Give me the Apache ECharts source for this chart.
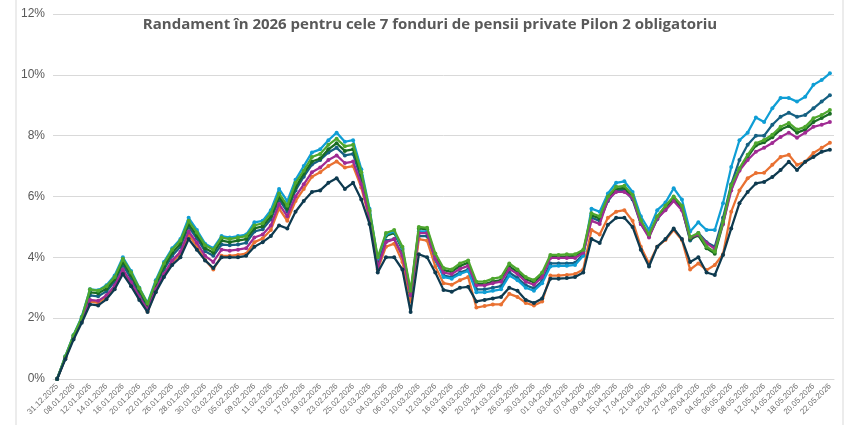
<!DOCTYPE html>
<html>
<head>
    <meta http-equiv="Content-Type" content="text/html; charset=utf-8" />
    <script type="text/javascript" src="https://cdn.jsdelivr.net/npm/echarts@6/dist/echarts.min.js"></script>
</head>
<body style="margin:0;">
    <div id="chartDom" style="width: 860px; height: 425px;"></div>

    <script type="text/javascript">
        // trading days (labels shown every other day)
        var dates = [
            '31.12.2025', '05.01.2026', '08.01.2026', '09.01.2026', '12.01.2026', '13.01.2026', '14.01.2026', '15.01.2026',
            '16.01.2026', '19.01.2026', '20.01.2026', '21.01.2026', '22.01.2026', '23.01.2026', '26.01.2026', '27.01.2026',
            '28.01.2026', '29.01.2026', '30.01.2026', '02.02.2026', '03.02.2026', '04.02.2026', '05.02.2026', '06.02.2026',
            '09.02.2026', '10.02.2026', '11.02.2026', '12.02.2026', '13.02.2026', '16.02.2026', '17.02.2026', '18.02.2026',
            '19.02.2026', '20.02.2026', '23.02.2026', '24.02.2026', '25.02.2026', '27.02.2026', '02.03.2026', '03.03.2026',
            '04.03.2026', '05.03.2026', '06.03.2026', '09.03.2026', '10.03.2026', '11.03.2026', '12.03.2026', '13.03.2026',
            '16.03.2026', '17.03.2026', '18.03.2026', '19.03.2026', '20.03.2026', '23.03.2026', '24.03.2026', '25.03.2026',
            '26.03.2026', '27.03.2026', '30.03.2026', '31.03.2026', '01.04.2026', '02.04.2026', '03.04.2026', '06.04.2026',
            '07.04.2026', '08.04.2026', '09.04.2026', '14.04.2026', '15.04.2026', '16.04.2026', '17.04.2026', '20.04.2026',
            '21.04.2026', '22.04.2026', '23.04.2026', '24.04.2026', '27.04.2026', '28.04.2026', '29.04.2026', '30.04.2026',
            '04.05.2026', '05.05.2026', '06.05.2026', '07.05.2026', '08.05.2026', '11.05.2026', '12.05.2026', '13.05.2026',
            '14.05.2026', '15.05.2026', '18.05.2026', '19.05.2026', '20.05.2026', '21.05.2026', '22.05.2026'
        ];

        var fundA = [0, 0.70, 1.38, 1.95, 2.75, 2.72, 2.88, 3.20, 3.75, 3.30, 2.80, 2.35, 3.05, 3.60, 4.05, 4.35,
            5.00, 4.62, 4.20, 4.05, 4.42, 4.40, 4.42, 4.48, 4.85, 4.92, 5.25, 5.90, 5.50, 6.20, 6.65, 7.05,
            7.20, 7.45, 7.60, 7.35, 7.40, 6.55, 5.40, 3.80, 4.55, 4.60, 4.05, 2.70, 4.70, 4.70, 3.90, 3.40,
            3.35, 3.50, 3.60, 2.95, 2.95, 3.00, 3.05, 3.50, 3.32, 3.08, 2.98, 3.22, 3.80, 3.80, 3.80, 3.82,
            4.10, 5.30, 5.20, 5.85, 6.20, 6.22, 5.90, 5.10, 4.70, 5.25, 5.60, 5.90, 5.60, 4.55, 4.80, 4.50,
            4.35, 5.30, 6.40, 7.20, 7.70, 8.00, 8.00, 8.36, 8.62, 8.75, 8.62, 8.68, 8.90, 9.12, 9.33];
        var fundB = [0, 0.68, 1.35, 1.90, 2.55, 2.50, 2.70, 3.02, 3.55, 3.12, 2.65, 2.22, 2.90, 3.42, 3.85, 4.10,
            4.75, 4.35, 3.92, 3.60, 4.05, 4.05, 4.08, 4.12, 4.50, 4.62, 4.90, 5.60, 5.20, 5.85, 6.25, 6.65,
            6.80, 7.00, 7.15, 6.95, 7.00, 6.30, 5.25, 3.60, 4.35, 4.45, 3.85, 2.55, 4.60, 4.55, 3.70, 3.15,
            3.10, 3.25, 3.35, 2.35, 2.40, 2.45, 2.45, 2.80, 2.70, 2.50, 2.42, 2.55, 3.40, 3.40, 3.42, 3.45,
            3.60, 4.90, 4.75, 5.30, 5.50, 5.55, 5.20, 4.35, 3.80, 4.35, 4.57, 4.90, 4.57, 3.60, 3.80, 3.58,
            3.75, 4.10, 5.50, 6.20, 6.60, 6.77, 6.78, 7.04, 7.30, 7.37, 7.04, 7.14, 7.43, 7.60, 7.77];
        var fundC = [0, 0.72, 1.42, 2.00, 2.85, 2.82, 2.97, 3.28, 3.85, 3.42, 2.90, 2.42, 3.12, 3.70, 4.15, 4.45,
            5.10, 4.72, 4.30, 4.15, 4.55, 4.50, 4.55, 4.60, 4.95, 5.02, 5.35, 6.00, 5.60, 6.30, 6.75, 7.15,
            7.25, 7.55, 7.75, 7.50, 7.55, 6.70, 5.50, 3.90, 4.70, 4.80, 4.25, 2.85, 4.95, 4.92, 4.05, 3.58,
            3.52, 3.72, 3.82, 3.12, 3.12, 3.20, 3.25, 3.70, 3.52, 3.28, 3.18, 3.42, 4.02, 4.02, 4.02, 4.05,
            4.20, 5.38, 5.28, 5.95, 6.25, 6.28, 5.98, 5.15, 4.70, 5.30, 5.62, 5.95, 5.62, 4.60, 4.72, 4.30,
            4.12, 5.10, 6.30, 6.88, 7.30, 7.68, 7.78, 7.95, 8.20, 8.32, 8.10, 8.20, 8.45, 8.58, 8.72];
        var fundD = [0, 0.75, 1.45, 2.05, 2.95, 2.92, 3.08, 3.40, 4.00, 3.55, 3.00, 2.50, 3.25, 3.85, 4.30, 4.60,
            5.30, 4.90, 4.45, 4.30, 4.70, 4.65, 4.70, 4.75, 5.15, 5.20, 5.55, 6.25, 5.85, 6.55, 7.00, 7.45,
            7.55, 7.85, 8.10, 7.80, 7.85, 6.90, 5.60, 3.95, 4.75, 4.85, 4.30, 2.75, 4.85, 4.85, 3.95, 3.35,
            3.30, 3.45, 3.55, 2.85, 2.85, 2.90, 2.95, 3.40, 3.25, 3.00, 2.90, 3.15, 3.70, 3.72, 3.72, 3.75,
            4.05, 5.60, 5.50, 6.10, 6.45, 6.50, 6.15, 5.35, 4.90, 5.55, 5.80, 6.27, 5.90, 4.85, 5.15, 4.90,
            4.90, 5.78, 6.97, 7.85, 8.10, 8.60, 8.45, 8.90, 9.24, 9.24, 9.12, 9.28, 9.67, 9.83, 10.05];
        var fundE = [0, 0.70, 1.37, 1.92, 2.60, 2.57, 2.75, 3.07, 3.60, 3.18, 2.70, 2.28, 2.95, 3.45, 3.90, 4.18,
            4.85, 4.48, 4.05, 3.85, 4.25, 4.22, 4.25, 4.30, 4.65, 4.75, 5.05, 5.75, 5.35, 6.00, 6.40, 6.80,
            6.95, 7.20, 7.35, 7.10, 7.15, 6.40, 5.30, 3.65, 4.50, 4.60, 4.05, 2.75, 4.80, 4.80, 3.95, 3.50,
            3.45, 3.62, 3.72, 3.08, 3.08, 3.15, 3.20, 3.62, 3.45, 3.20, 3.10, 3.35, 3.98, 3.98, 3.98, 3.98,
            4.15, 5.20, 5.10, 5.90, 6.15, 6.15, 5.95, 5.10, 4.65, 5.28, 5.55, 5.85, 5.55, 4.65, 4.75, 4.47,
            4.28, 5.10, 6.20, 6.85, 7.20, 7.47, 7.60, 7.76, 7.96, 8.10, 7.93, 8.10, 8.29, 8.36, 8.45];
        var fundF = [0, 0.74, 1.44, 2.02, 2.95, 2.90, 3.05, 3.35, 3.95, 3.50, 2.98, 2.48, 3.20, 3.80, 4.25, 4.55,
            5.20, 4.82, 4.40, 4.25, 4.65, 4.60, 4.65, 4.70, 5.05, 5.12, 5.45, 6.10, 5.70, 6.45, 6.85, 7.30,
            7.40, 7.70, 7.90, 7.65, 7.70, 6.80, 5.55, 4.00, 4.80, 4.90, 4.35, 2.90, 5.00, 4.97, 4.13, 3.65,
            3.60, 3.80, 3.90, 3.20, 3.20, 3.30, 3.35, 3.80, 3.60, 3.35, 3.25, 3.50, 4.08, 4.08, 4.10, 4.10,
            4.25, 5.45, 5.35, 6.00, 6.32, 6.35, 6.05, 5.22, 4.75, 5.35, 5.70, 6.00, 5.70, 4.67, 4.80, 4.35,
            4.18, 5.17, 6.37, 6.93, 7.37, 7.75, 7.86, 8.03, 8.29, 8.42, 8.20, 8.29, 8.57, 8.68, 8.84];
        var fundG = [0, 0.65, 1.30, 1.85, 2.45, 2.42, 2.62, 2.95, 3.45, 3.05, 2.60, 2.20, 2.85, 3.35, 3.75, 4.00,
            4.60, 4.25, 3.90, 3.65, 4.00, 4.00, 4.00, 4.05, 4.35, 4.50, 4.70, 5.05, 4.95, 5.50, 5.85, 6.15,
            6.20, 6.45, 6.60, 6.25, 6.45, 5.90, 5.10, 3.50, 4.00, 4.00, 3.60, 2.20, 4.10, 4.00, 3.50, 2.93,
            2.87, 3.00, 3.03, 2.55, 2.60, 2.65, 2.70, 3.00, 2.90, 2.60, 2.50, 2.65, 3.30, 3.30, 3.32, 3.35,
            3.50, 4.60, 4.47, 5.07, 5.30, 5.30, 5.00, 4.25, 3.70, 4.35, 4.60, 4.95, 4.60, 3.85, 4.00, 3.50,
            3.42, 4.08, 4.95, 5.78, 6.15, 6.43, 6.48, 6.64, 6.87, 7.14, 6.87, 7.14, 7.30, 7.47, 7.54];

        var colors = ['#156082', '#E97132', '#196B24', '#0F9ED5', '#A02B93', '#4EA72E', '#0E3A4F'];
        var funds = [fundA, fundB, fundC, fundD, fundE, fundF, fundG];

        var myChart = echarts.init(document.getElementById("chartDom"));

        var series = funds.map(function (d, i) {
            return {
                type: 'line',
                data: d,
                symbol: 'circle',
                symbolSize: 4,
                lineStyle: { width: 2.25, color: colors[i] },
                itemStyle: { color: colors[i] },
                z: 2 + i
            };
        });

        var option = {
            animation: false,
            backgroundColor: '#ffffff',
            title: {
                text: 'Randament în 2026 pentru cele 7 fonduri de pensii private Pilon 2 obligatoriu',
                left: 'center',
                top: 12,
                textStyle: { fontSize: 15, fontWeight: 'bold', color: '#595959', fontFamily: 'Open Sans' }
            },
            graphic: [{
                type: 'rect',
                shape: { x: 16, y: -2, width: 827, height: 440 },
                style: { fill: 'none', stroke: '#d9d9d9', lineWidth: 1 }
            }],
            grid: { left: 53, right: 26, top: 14, bottom: 46, containLabel: false, outerBoundsMode: 'none' },
            xAxis: {
                type: 'category',
                data: dates,
                boundaryGap: true,
                axisLine: { lineStyle: { color: '#d9d9d9' } },
                axisTick: { show: false },
                axisLabel: { interval: 1, rotate: 45, fontSize: 8, color: '#6f6f6f', margin: 6 }
            },
            yAxis: {
                type: 'value',
                min: 0,
                max: 12,
                interval: 2,
                axisLine: { show: false },
                axisTick: { show: false },
                axisLabel: { formatter: '{value}%', fontSize: 12, color: '#595959' },
                splitLine: { lineStyle: { color: '#d9d9d9' } }
            },
            series: series
        };
        myChart.setOption(option);
        window.onresize = myChart.resize;
    </script>
</body>
</html>
